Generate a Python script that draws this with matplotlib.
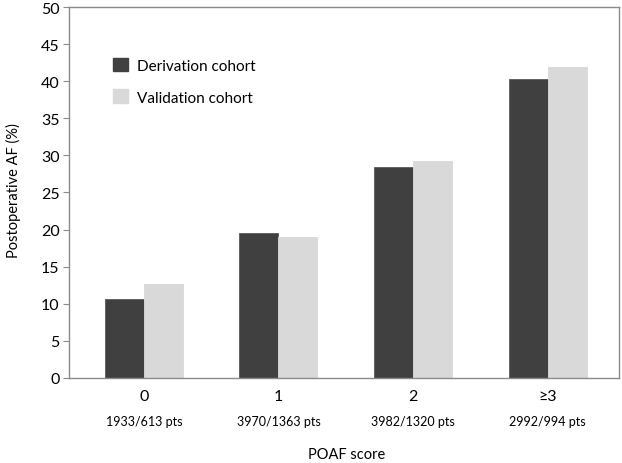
import matplotlib
matplotlib.use("Agg")
import matplotlib.pyplot as plt
from matplotlib.patches import Patch
from matplotlib.transforms import blended_transform_factory
import numpy as np

plt.rcParams["font.family"] = ["Lato", "DejaVu Sans"]

CATEGORIES = ["0", "1", "2", "\u22653"]
PATIENTS = ["1933/613 pts", "3970/1363 pts", "3982/1320 pts", "2992/994 pts"]
DERIVATION = [10.6, 19.5, 28.4, 40.3]
VALIDATION = [12.7, 19.0, 29.2, 41.9]

DARK = "#404040"
LIGHT = "#d9d9d9"
SPINE = "#8a8a8a"

fig = plt.figure(figsize=(6.22, 4.64), dpi=100)
ax = fig.add_axes([0.1115, 0.184, 0.8835, 0.798])

x = np.arange(len(CATEGORIES))
w = 0.29
ax.bar(x - w / 2, DERIVATION, width=w, color=DARK, edgecolor="#5a5a5a", linewidth=0.6)
ax.bar(x + w / 2, VALIDATION, width=w, color=LIGHT, edgecolor=LIGHT, linewidth=0.6)

ax.set_xlim(-0.554, 3.53)
ax.set_ylim(0, 50)
ax.set_yticks(range(0, 51, 5))
ax.tick_params(axis="y", labelsize=11.5, length=4, color=SPINE, pad=3)
ax.set_xticks(x)
ax.set_xticklabels(CATEGORIES, fontsize=11.5)
ax.tick_params(axis="x", length=0, pad=8)
for s in ax.spines.values():
    s.set_color(SPINE)
    s.set_linewidth(1.0)

# patient counts under each category
trans = blended_transform_factory(ax.transData, ax.transAxes)
for xi, lab in zip(x, PATIENTS):
    ax.text(xi, -0.117, lab, transform=trans, ha="center", va="center", fontsize=9)

fig.text(347 / 622, 1 - 455 / 464, "POAF score", ha="center", va="center", fontsize=10.5)
fig.text(13 / 622, 1 - 191 / 464, "Postoperative AF (%)", ha="center", va="center",
         rotation=90, fontsize=10.5)

handles = [Patch(facecolor=DARK, edgecolor=DARK), Patch(facecolor=LIGHT, edgecolor=LIGHT)]
ax.legend(handles, ["Derivation cohort", "Validation cohort"], loc="upper left",
          bbox_to_anchor=(0.065, 0.885), frameon=False, fontsize=11, borderpad=0,
          handlelength=1.0, handleheight=1.0, handletextpad=0.6, labelspacing=1.1)

plt.savefig("out.png", dpi=100, facecolor="white")
